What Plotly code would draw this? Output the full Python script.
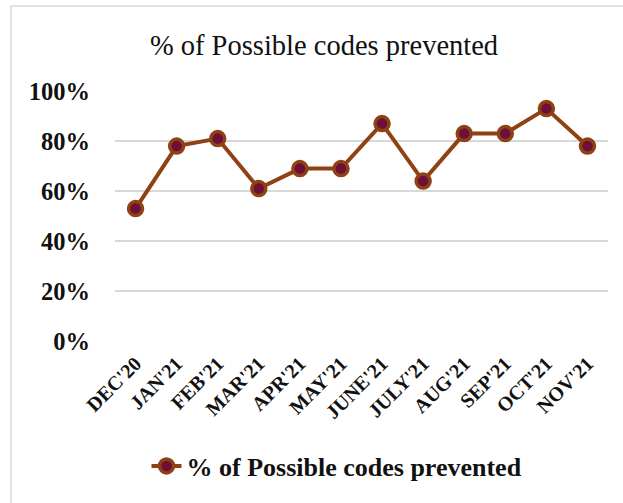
import plotly.graph_objects as go

months = ["DEC'20", "JAN'21", "FEB'21", "MAR'21", "APR'21", "MAY'21",
          "JUNE'21", "JULY'21", "AUG'21", "SEP'21", "OCT'21", "NOV'21"]
prevented = [0.53, 0.78, 0.81, 0.61, 0.69, 0.69, 0.87, 0.64, 0.83, 0.83, 0.93, 0.78]
y_ticks = [0, 0.2, 0.4, 0.6, 0.8, 1.0]
series_name = "% of Possible codes prevented"

W, H = 623, 503
L, R, T, B = 115, 15, 91, 162
pw, ph = W - L - R, H - T - B

serif = "Liberation Serif, Times New Roman, serif"
line_col = "#8E4113"
fill_col = "#6E0F3A"
grid_col = "#d9d9d9"

fig = go.Figure()
fig.add_trace(go.Scatter(
    x=months, y=prevented, name=series_name, mode="lines+markers",
    line=dict(color=line_col, width=4),
    marker=dict(size=14, color=fill_col, line=dict(color=line_col, width=3.5)),
))


def px_x(p):
    return (p - L) / pw


def px_y(p):
    return (H - B - p) / ph


# chart frame
fig.add_shape(type="rect", xref="paper", yref="paper",
              x0=px_x(11), x1=px_x(640), y0=px_y(6), y1=px_y(520),
              line=dict(color=grid_col, width=1.5), fillcolor="rgba(0,0,0,0)",
              layer="below")

fig.update_layout(
    width=W, height=H,
    margin=dict(l=L, r=R, t=T, b=B),
    paper_bgcolor="white", plot_bgcolor="white",
    title=dict(text=series_name, x=324 / W, xanchor="center",
               y=1 - 45 / H, yanchor="middle", yref="container",
               font=dict(family=serif, size=28.5, color="#111")),
    showlegend=True,
    legend=dict(orientation="h", xref="container", yref="container",
                x=337 / W, xanchor="center", y=1 - 466 / H, yanchor="middle",
                font=dict(family=serif, size=26, color="#111", weight="bold"),
                bgcolor="rgba(0,0,0,0)"),
    xaxis=dict(type="category", range=[-0.5, len(months) - 0.5],
               showgrid=False, zeroline=False, showline=False,
               ticks="", tickangle=-45, ticklabelstandoff=6,
               tickfont=dict(family=serif, size=20, color="#111", weight="bold")),
    yaxis=dict(range=[0, 1.0005], tickvals=y_ticks, tickformat=".0%",
               showgrid=True, gridcolor=grid_col, gridwidth=1.5,
               zeroline=False, showline=False, ticks="", ticklabelstandoff=24,
               tickfont=dict(family=serif, size=24.5, color="#111", weight="bold")),
)

fig.write_html("out.html")
